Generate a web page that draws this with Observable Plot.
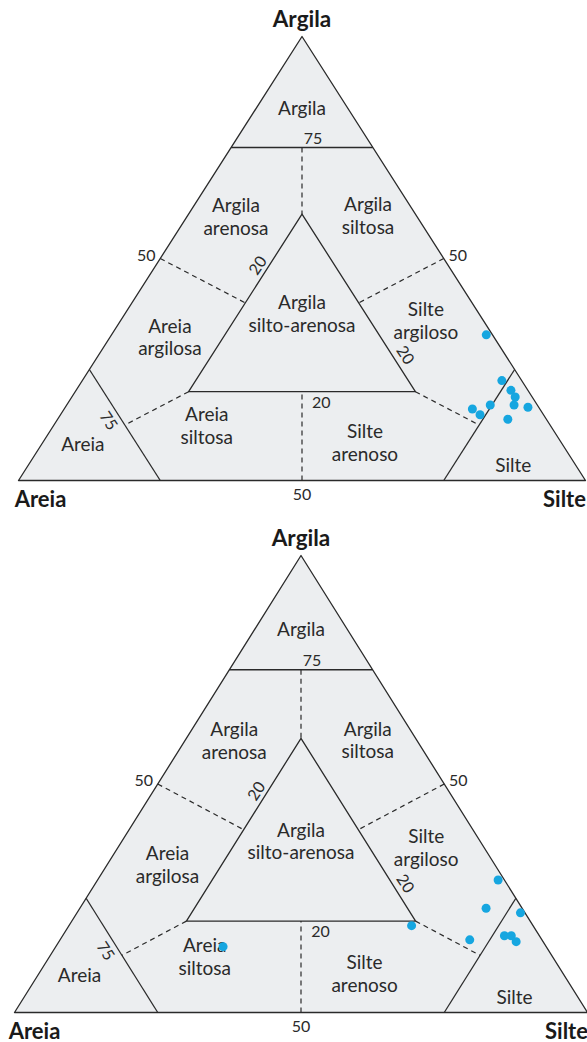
<!DOCTYPE html>
<html>
<head>
<meta charset="utf-8">
<script src="https://cdn.jsdelivr.net/npm/d3@7"></script>
<script src="https://cdn.jsdelivr.net/npm/@observablehq/plot@0.6"></script>
<style>
  html, body { margin: 0; padding: 0; background: #ffffff; }
  #wrap { width: 587px; }
  #wrap svg { display: block; }
</style>
</head>
<body>
<div id="wrap"></div>
<script>
// ---- Data (percentages: areia = sand, silte = silt, argila = clay) ----
const areia1  = [1.1, 3.5, 3.0, 3.0, 4.1, 1.9, 8.3, 11.9, 11.2, 6.8];
const silte1  = [66.1, 74.0, 76.7, 78.2, 78.9, 81.6, 74.7, 72.0, 74.0, 79.4];
const argila1 = [32.8, 22.5, 20.3, 18.8, 17.0, 16.5, 17.0, 16.1, 14.8, 13.8];

const areia2  = [1.1, 6.3, 0.8, 6.1, 4.9, 4.7, 12.6, 21.2, 56.4];
const silte2  = [69.9, 70.9, 77.4, 77.1, 78.3, 79.8, 71.5, 59.8, 29.2];
const argila2 = [29.0, 22.8, 21.8, 16.8, 16.8, 15.5, 15.9, 19.0, 14.4];

// Shepard classification: corners and boundaries, [areia, silte, argila]
const corners = [[100, 0, 0], [0, 100, 0], [0, 0, 100], [100, 0, 0]];
const innerTriangle = [[20, 20, 60], [60, 20, 20], [20, 60, 20], [20, 20, 60]];
const solidBoundaries = [
  [[25, 0, 75], [0, 25, 75]],
  [[75, 0, 25], [75, 25, 0]],
  [[0, 75, 25], [25, 75, 0]]
];
const dashedBoundaries = [
  [[12.5, 12.5, 75], [20, 20, 60]],
  [[50, 0, 50], [40, 20, 40]],
  [[0, 50, 50], [20, 40, 40]],
  [[50, 50, 0], [40, 40, 20]],
  [[60, 20, 20], [75, 12.5, 12.5]],
  [[20, 60, 20], [12.5, 75, 12.5]]
];

const classNames = ["Argila", "Argila\narenosa", "Argila\nsiltosa", "Argila\nsilto-arenosa",
  "Areia\nargilosa", "Silte\nargiloso", "Areia\nsiltosa", "Silte\narenoso", "Areia", "Silte"];
const classPos = [[8, 8, 84], [31.9, 8.6, 59.5], [8.5, 31.8, 59.7], [31.2, 31.2, 37.6],
  [57.1, 10.5, 32.4], [10.1, 53.8, 36.1], [60.6, 27.0, 12.4], [34.8, 56.8, 8.6],
  [84.5, 7.2, 8.3], [11, 85.5, 3.5]];

const tickLabels = ["75", "50", "50", "50", "75", "20", "20", "20"];
const tickPos = [[12.5, 12.5, 75], [50, 0, 50], [0, 50, 50], [50, 50, 0],
  [75, 11.6, 13.4], [31.6, 20, 48.4], [20, 51.8, 28.2], [36.6, 43.4, 20]];
const tickDx = [11, -14, 14, 0, -14, -11, 13, 0];
const tickDy = [-9, -3, -3, 14, 0, 0, 0, 11];
const tickRot = [0, 0, 0, 0, 57, -57, 57, 0];

const vertexNames = ["Argila", "Areia", "Silte"];
const vertexPos = [[0, 0, 100], [100, 0, 0], [0, 100, 0]];

// ---- helpers ----
const tx = ([a, s, c]) => (s + c / 2) / 100;
const ty = ([a, s, c]) => c / 100;

function ternary({areia, silte, argila, xRange, yRange, areiaDx}) {
  const pts = areia.map((a, i) => ({x: tx([a, silte[i], argila[i]]), y: ty([a, silte[i], argila[i]])}));
  const seg = (arr) => arr.map(([p, q]) => ({x1: tx(p), y1: ty(p), x2: tx(q), y2: ty(q)}));
  const labels = classNames.map((t, i) => ({t, x: tx(classPos[i]), y: ty(classPos[i])}));
  const ticks = tickLabels.map((t, i) => ({t, x: tx(tickPos[i]), y: ty(tickPos[i]), dx: tickDx[i], dy: tickDy[i], r: tickRot[i]}));
  const verts = vertexNames.map((t, i) => ({t, x: tx(vertexPos[i]), y: ty(vertexPos[i])}));
  const ink = "#2a2a2a";
  const tickMarks = ticks.map(d => Plot.text([d], {x: "x", y: "y", text: "t", dx: d.dx, dy: d.dy, rotate: d.r,
    fontSize: 16, fill: ink}));
  return Plot.plot({
    width: 587, height: 521,
    marginTop: 0, marginBottom: 0, marginLeft: 0, marginRight: 0,
    x: {domain: [0, 1], range: xRange, axis: null},
    y: {domain: [0, 1], range: yRange, axis: null},
    style: {fontFamily: "Lato, 'Open Sans', sans-serif", background: "#ffffff", overflow: "visible"},
    marks: [
      Plot.line(corners.map(p => ({x: tx(p), y: ty(p)})), {x: "x", y: "y", fill: "#eceef0", stroke: ink, strokeWidth: 1.3}),
      Plot.line(innerTriangle.map(p => ({x: tx(p), y: ty(p)})), {x: "x", y: "y", stroke: ink, strokeWidth: 1.3}),
      Plot.link(seg(solidBoundaries), {x1: "x1", y1: "y1", x2: "x2", y2: "y2", stroke: ink, strokeWidth: 1.3}),
      Plot.link(seg(dashedBoundaries), {x1: "x1", y1: "y1", x2: "x2", y2: "y2", stroke: ink, strokeWidth: 1.2, strokeDasharray: "5,4"}),
      Plot.text(labels, {x: "x", y: "y", text: "t", fontSize: 19, lineHeight: 1.2, fill: ink}),
      ...tickMarks,
      Plot.text([verts[0]], {x: "x", y: "y", text: "t", dy: -17, fontSize: 22.5, fontWeight: "bold", fill: "#1a1a1a"}),
      Plot.text([verts[1]], {x: "x", y: "y", text: "t", dx: areiaDx, dy: 19, fontSize: 22, fontWeight: "bold", fill: "#1a1a1a"}),
      Plot.text([verts[2]], {x: "x", y: "y", text: "t", dx: -21, dy: 19, fontSize: 22, fontWeight: "bold", fill: "#1a1a1a"}),
      Plot.dot(pts, {x: "x", y: "y", r: 4.5, fill: "#16a6e0", stroke: "none"})
    ]
  });
}

const wrap = document.getElementById("wrap");
wrap.appendChild(ternary({areia: areia1, silte: silte1, argila: argila1, xRange: [18, 585], yRange: [480, 36], areiaDx: 22}));
wrap.appendChild(ternary({areia: areia2, silte: silte2, argila: argila2, xRange: [14, 587], yRange: [491, 34], areiaDx: 20}));
</script>
</body>
</html>
